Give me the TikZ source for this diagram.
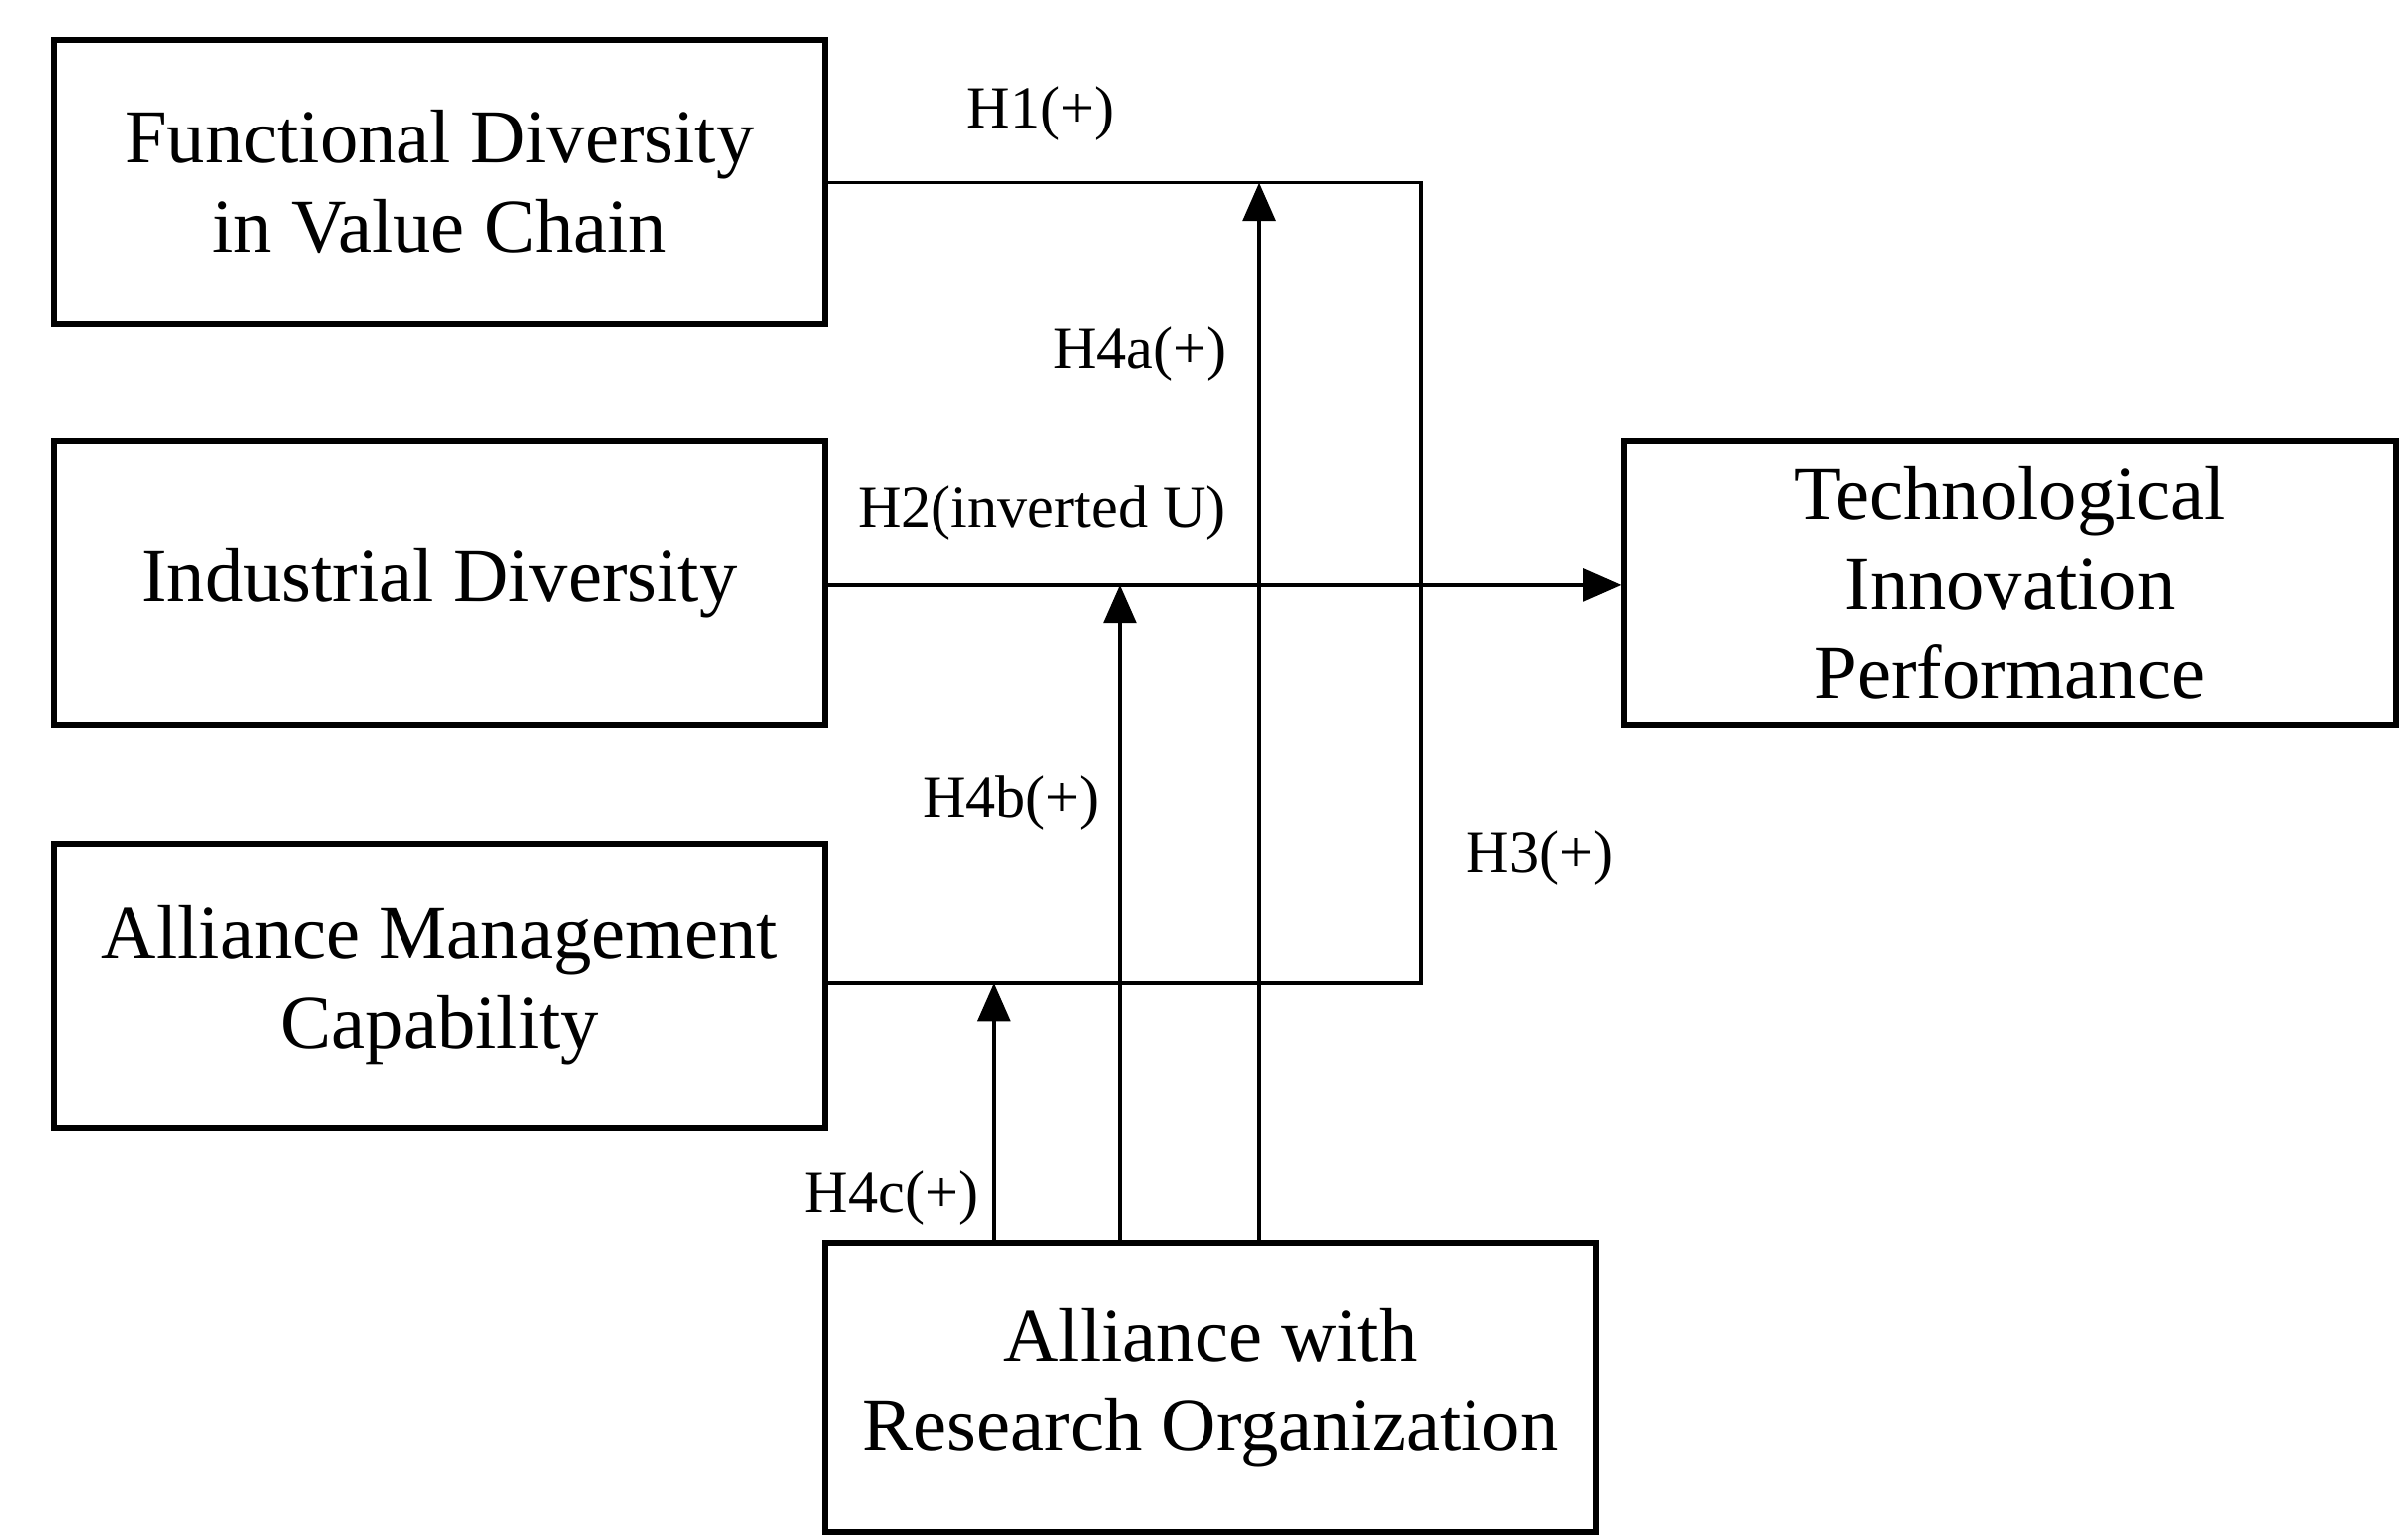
\documentclass[tikz,border=0pt]{standalone}
\usepackage{fontspec}
\setmainfont{Liberation Serif}
\usetikzlibrary{arrows.meta}
\begin{document}
\begin{tikzpicture}[x=0.01cm,y=-0.01cm,
  box/.style={draw,line width=1.1pt,minimum width=4.97cm,minimum height=1.83cm,align=center,inner sep=0pt,font=\fontsize{14}{16.5}\selectfont},
  lab/.style={font=\fontsize{11}{13}\selectfont,inner sep=0pt},
  ln/.style={line width=0.6pt},
  arr/.style={ln,-{Triangle[length=7pt,width=6pt]}}]
\useasboundingbox (0,0) rectangle (1552,993);
\node[box] (fd) at (283.5,117) {Functional Diversity\\in Value Chain};
\node[box] (id) at (283.5,376) {Industrial Diversity};
\node[box] (amc) at (283.5,635.5) {Alliance Management\\Capability};
\node[box] (tip) at (1296,376) {Technological\\Innovation\\Performance};
\node[box,minimum height=1.86cm] (aro) at (780.5,895) {Alliance with\\Research Organization};
\coordinate (c1) at (916,118);
\coordinate (c3) at (916,634);
\coordinate (a1) at (812,118);
\coordinate (a2) at (722,377);
\coordinate (a3) at (641,634);
\draw[ln] (fd.east |- c1) -- (c1) -- (c3) -- (amc.east |- c3);
\draw[arr] (id.east |- a2) -- (tip.west |- a2);
\draw[arr] (aro.north -| a1) -- (a1);
\draw[arr] (aro.north -| a2) -- (a2);
\draw[arr] (aro.north -| a3) -- (a3);
\node[lab] (l1) at (671,73) {H1(+)};
\node[lab] (l4a) at (735,228) {H4a(+)};
\node[lab] (l2) at (672,331) {H2(inverted U)};
\node[lab] (l4b) at (652,518) {H4b(+)};
\node[lab] (l3) at (993,553) {H3(+)};
\node[lab] (l4c) at (575,773) {H4c(+)};
\end{tikzpicture}
\end{document}
